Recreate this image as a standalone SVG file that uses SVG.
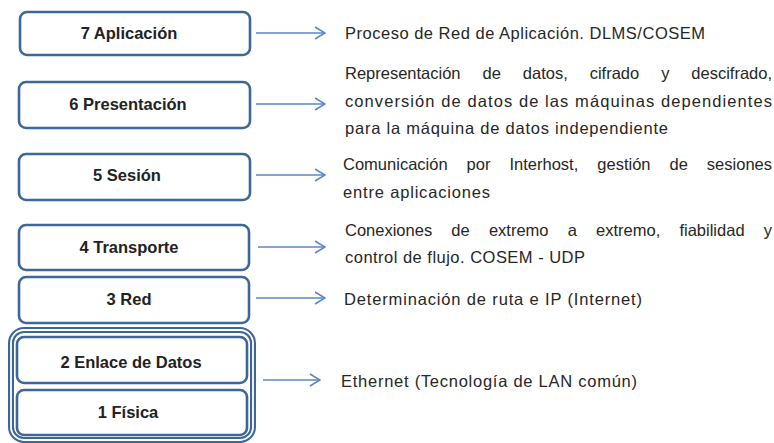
<svg xmlns="http://www.w3.org/2000/svg" width="774" height="443" viewBox="0 0 774 443">
<defs>
<style>
.box{fill:#fff;stroke:#3E6799;stroke-width:2.6}
.lbl{font-family:"Liberation Sans",Arial,sans-serif;font-weight:bold;font-size:16.5px;fill:#222;text-anchor:middle}
.d{font-family:"Liberation Sans",Arial,sans-serif;font-size:16.5px;fill:#262626}
.arr{fill:none;stroke:#5A87C4;stroke-width:1.6}
</style>
<marker id="ah" viewBox="0 0 12 14" refX="11" refY="7" markerWidth="12" markerHeight="14" markerUnits="userSpaceOnUse" orient="auto">
<path d="M1,1 L11,7 L1,13" fill="none" stroke="#5A87C4" stroke-width="1.6"/>
</marker>
</defs>
<rect width="774" height="443" fill="#fff"/>
<g id="layer7"><rect class="box" x="20" y="12" width="230" height="43" rx="7"/><text class="lbl" x="129" y="39">7 Aplicación</text></g>
<g id="layer6"><rect class="box" x="19" y="82" width="231" height="46" rx="7"/><text class="lbl" x="128" y="110">6 Presentación</text></g>
<g id="layer5"><rect class="box" x="19" y="154" width="231" height="46" rx="7"/><text class="lbl" x="127" y="181">5 Sesión</text></g>
<g id="layer4"><rect class="box" x="19" y="225" width="230" height="45" rx="7"/><text class="lbl" x="129" y="253">4 Transporte</text></g>
<g id="layer3"><rect class="box" x="19" y="277" width="230" height="46" rx="7"/><text class="lbl" x="129" y="305">3 Red</text></g>
<g id="group21">
<rect x="11" y="330" width="242" height="110" rx="13" fill="#fff" stroke="#3E6799" stroke-width="6"/>
<rect x="11" y="330" width="242" height="110" rx="13" fill="none" stroke="#fff" stroke-width="1.8"/>
</g>
<g id="layer2"><rect class="box" x="17" y="337" width="230" height="46" rx="7"/><text class="lbl" x="131" y="368">2 Enlace de Datos</text></g>
<g id="layer1"><rect class="box" x="17" y="390" width="230" height="45" rx="7"/><text class="lbl" x="128" y="418">1 Física</text></g>
<g id="connectors">
<line class="arr" x1="256" y1="33" x2="325" y2="33" marker-end="url(#ah)"/>
<line class="arr" x1="256" y1="104" x2="325" y2="104" marker-end="url(#ah)"/>
<line class="arr" x1="256" y1="175" x2="325" y2="175" marker-end="url(#ah)"/>
<line class="arr" x1="258" y1="247" x2="325" y2="247" marker-end="url(#ah)"/>
<line class="arr" x1="256" y1="298" x2="325" y2="298" marker-end="url(#ah)"/>
<line class="arr" x1="263" y1="380" x2="320" y2="380" marker-end="url(#ah)"/>
</g>
<g id="descriptions">
<text class="d" x="345" y="39" textLength="360">Proceso de Red de Aplicación. DLMS/COSEM</text>
<text class="d" x="345" y="79" word-spacing="17.4" textLength="427">Representación de datos, cifrado y descifrado,</text>
<text class="d" x="345" y="107" textLength="427">conversión de datos de las máquinas dependientes</text>
<text class="d" x="345" y="134" textLength="323">para la máquina de datos independiente</text>
<text class="d" x="343" y="170" word-spacing="14.4" textLength="429">Comunicación por Interhost, gestión de sesiones</text>
<text class="d" x="343" y="198" textLength="147">entre aplicaciones</text>
<text class="d" x="345" y="236" word-spacing="14.6" textLength="427">Conexiones de extremo a extremo, fiabilidad y</text>
<text class="d" x="345" y="263" textLength="240">control de flujo. COSEM - UDP</text>
<text class="d" x="344" y="305" textLength="298">Determinación de ruta e IP (Internet)</text>
<text class="d" x="341" y="387" textLength="296">Ethernet (Tecnología de LAN común)</text>
</g>
</svg>
